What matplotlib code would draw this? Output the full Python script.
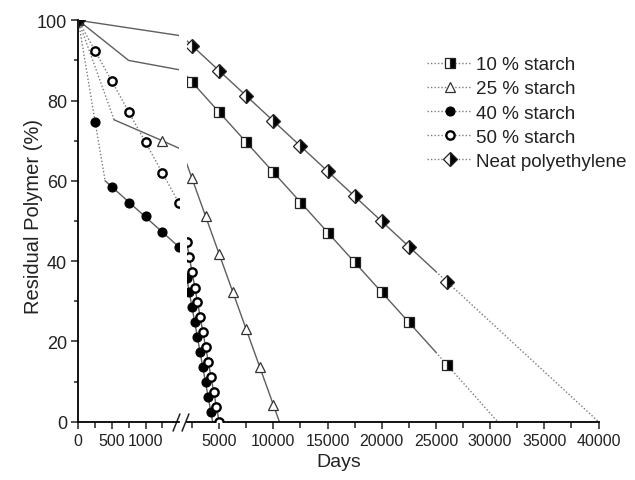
import matplotlib
matplotlib.use("Agg")
import matplotlib.pyplot as plt
from matplotlib.lines import Line2D

plt.rcParams['font.family'] = ['Liberation Sans', 'DejaVu Sans']

# measured points (days, residual polymer %)
days_10 = [0, 2500, 5000, 7500, 10000, 12500, 15000, 17500, 20000, 22500, 26000]
res_10 = [100, 84.6, 77.1, 69.6, 62.1, 54.6, 47.1, 39.7, 32.2, 24.8, 14.1]

days_25 = [0, 1250, 2500, 3750, 5000, 6250, 7500, 8750, 10000]
res_25 = [100, 70.0, 60.7, 51.3, 41.8, 32.4, 23.1, 13.7, 4.2]

days_40 = [0, 250, 500, 750, 1000, 1250, 1500, 2000, 2250, 2500, 2750,
           3000, 3250, 3500, 3750, 4000, 4250]
res_40 = [100, 74.7, 58.5, 54.6, 51.2, 47.2, 43.4, 35.7, 32.4, 28.5, 24.8,
          21.0, 17.3, 13.6, 9.8, 6.1, 2.3]

days_50 = [0, 250, 500, 750, 1000, 1250, 1500, 2000, 2250, 2500, 2750,
           3000, 3250, 3500, 3750, 4000, 4250, 4500, 4750, 5000]
res_50 = [100, 92.4, 84.8, 77.2, 69.6, 62.0, 54.4, 44.8, 41.1, 37.4, 33.3,
          29.7, 26.0, 22.3, 18.5, 14.8, 11.1, 7.3, 3.6, 0.0]

days_pe = [0, 2500, 5000, 7500, 10000, 12500, 15000, 17500, 20000, 22500, 26000]
res_pe = [100, 93.7, 87.4, 81.2, 75.0, 68.8, 62.5, 56.3, 50.1, 43.6, 34.9]

# guide lines: solid = linear fits, dotted = early stage / extrapolation
fit_10_x, fit_10_y = [0, 750, 2500, 25000], [100, 90, 84.6, 17.3]
ext_10_x, ext_10_y = [25000, 30700], [17.3, 0]
early_25_x, early_25_y = [0, 534], [100, 75.2]
fit_25_x, fit_25_y = [534, 1250, 10560], [75.2, 70.0, 0]
early_40_x, early_40_y = [0, 250, 400], [100, 74.7, 60.0]
fit_40_x, fit_40_y = [400, 4400], [60.0, 0]
early_50_x, early_50_y = [0, 1500], [100, 54.4]
fit_50_x, fit_50_y = [2000, 5000], [44.8, 0]
fit_pe_x, fit_pe_y = [0, 2500, 25000], [100, 93.7, 37.4]
ext_pe_x, ext_pe_y = [25000, 40000], [37.4, 0]

labels = ['10 % starch', '25 % starch', '40 % starch', '50 % starch', 'Neat polyethylene']

solid = dict(color='#5e5e5e', lw=1.0, ls='-')
dotted = dict(color='#7a7a7a', lw=1.0, ls=(0, (1, 1.5)))

styles = [
    dict(marker='s', ms=7, mfc='k', mfcalt='white', fillstyle='right', mec='#222222', mew=0.9),
    dict(marker='^', ms=7.5, mfc='white', mec='#333333', mew=0.9),
    dict(marker='o', ms=6.5, mfc='k', mec='k', mew=0.8),
    dict(marker='o', ms=6, mfc='white', mec='k', mew=1.7),
    dict(marker='D', ms=7.2, mfc='k', mfcalt='white', fillstyle='right', mec='#222222', mew=0.9),
]

W, H = 635, 481
fig = plt.figure(figsize=(W / 100, H / 100), dpi=100)
y0, y1 = 422.7, 21.3
ax1 = fig.add_axes([78.3 / W, (H - y0) / H, (179.1 - 78.3) / W, (y0 - y1) / H])
ax2 = fig.add_axes([186.6 / W, (H - y0) / H, (598.5 - 186.6) / W, (y0 - y1) / H])

for ax in (ax1, ax2):
    ax.plot(fit_10_x, fit_10_y, **solid)
    ax.plot(ext_10_x, ext_10_y, **dotted)
    ax.plot(early_25_x, early_25_y, **dotted)
    ax.plot(fit_25_x, fit_25_y, **solid)
    ax.plot(early_40_x, early_40_y, **dotted)
    ax.plot(fit_40_x, fit_40_y, **solid)
    ax.plot(early_50_x, early_50_y, **dotted)
    ax.plot(fit_50_x, fit_50_y, **solid)
    ax.plot(fit_pe_x, fit_pe_y, **solid)
    ax.plot(ext_pe_x, ext_pe_y, **dotted)
    series = [(days_10, res_10), (days_25, res_25), (days_40, res_40),
              (days_50, res_50), (days_pe, res_pe)]
    for (dx, ry), st in zip(series, styles):
        ax.plot(dx, ry, ls='none', zorder=3, **st)
    ax.set_ylim(0, 100)
    for s in ('top', 'right'):
        ax.spines[s].set_visible(False)
    ax.spines['bottom'].set_linewidth(1.3)
    ax.tick_params(axis='x', which='both', direction='out', labelsize=11.5,
                   pad=3, width=1.1, colors='#222222')
    ax.tick_params(axis='x', which='major', length=5)
    ax.tick_params(axis='x', which='minor', length=4)

ax1.set_xlim(0, 1500)
ax1.set_xticks([0, 500, 1000])
ax1.set_xticks([250, 750, 1250], minor=True)
ax1.spines['left'].set_linewidth(1.3)
ax1.set_yticks([0, 20, 40, 60, 80, 100])
ax1.set_yticks([10, 30, 50, 70, 90], minor=True)
ax1.tick_params(axis='y', which='both', direction='out', labelsize=13,
                pad=3, width=1.1, colors='#222222')
ax1.tick_params(axis='y', which='major', length=5)
ax1.tick_params(axis='y', which='minor', length=3)

ax2.set_xlim(2000, 40000)
ax2.set_xticks(range(5000, 40001, 5000))
ax2.set_xticks(range(2500, 40000, 5000), minor=True)
ax2.spines['left'].set_visible(False)
ax2.set_yticks([])

# axis break marks
brk = dict(marker=[(-0.4, -1), (0.4, 1)], ms=13, mew=1.1, color='#222222',
           ls='none', clip_on=False)
ax1.plot([0.97], [0], transform=ax1.transAxes, **brk)
ax2.plot([-0.003], [0], transform=ax2.transAxes, **brk)

fig.text(34 / W, 1 - 217 / H, 'Residual Polymer (%)', rotation=90,
         ha='center', va='center', fontsize=14.5, color='#222222')
fig.text(338.4 / W, 1 - 463 / H, 'Days', ha='center', va='center',
         fontsize=14, color='#222222')

handles = [Line2D([], [], **dotted, **st) for st in styles]
fig.legend(handles, labels, loc='upper left',
           bbox_to_anchor=(427 / W, 1 - 57 / H), frameon=False,
           fontsize=13.6, handlelength=2.4, handletextpad=0.2,
           labelspacing=0.37, borderpad=0, borderaxespad=0,
           labelcolor='#222222')

fig.savefig('out.png', dpi=100)
